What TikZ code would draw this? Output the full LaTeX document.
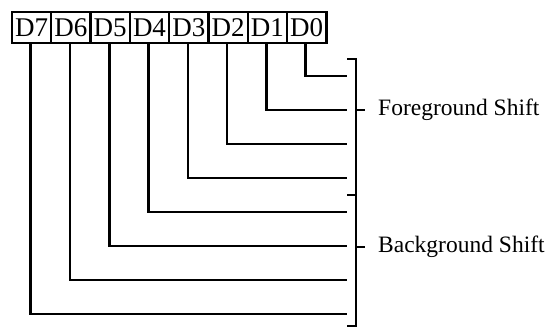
\documentclass[tikz,border=0pt]{standalone}
\usepackage{fontspec}
\setmainfont{Liberation Serif}
\usetikzlibrary{positioning, calc}
\tikzset{
  bitbox/.style={
    rectangle, draw=black, line width=2.4pt,
    minimum width=39.3pt, minimum height=31pt,
    inner sep=0pt, outer sep=0pt, text centered,
    font=\fontsize{27}{30}\selectfont
  },
  wire/.style={line width=2.6pt, draw=black, line join=miter},
  grouplabel/.style={anchor=west, inner sep=0pt, font=\fontsize{23.5}{27}\selectfont},
}
\begin{document}
\begin{tikzpicture}[x=1pt, y=-1pt]
\useasboundingbox (0,0) rectangle (554,328);

% --- Register bits ---
\node[bitbox] (b7) at (31.6,27.5) {D7};
\foreach \i [evaluate=\i as \j using int(\i+1)] in {6,...,0}
  \node[bitbox, right=0pt of b\j] (b\i) {D\i};

% --- Line ends at the brackets ---
\foreach \i in {0,...,7}
  \coordinate (e\i) at (347,{76+34*\i});

% --- Bit lines ---
\foreach \i in {0,...,7}
  \draw[wire] ([xshift=-1pt]b\i.south) |- (e\i);

% --- Brackets ---
\draw[wire] (347,59) -- (356,59) -- (356,195) -- (347,195);
\draw[wire] (356,195) -- (356,326) -- (347,326);

% --- Group labels ---
\node[grouplabel] (fglabel) at (378,110) {Foreground Shift};
\node[grouplabel] (bglabel) at (378,247) {Background Shift};
\draw[wire] (356,110) -- (365,110);
\draw[wire] (356,247) -- (365,247);

\end{tikzpicture}
\end{document}
